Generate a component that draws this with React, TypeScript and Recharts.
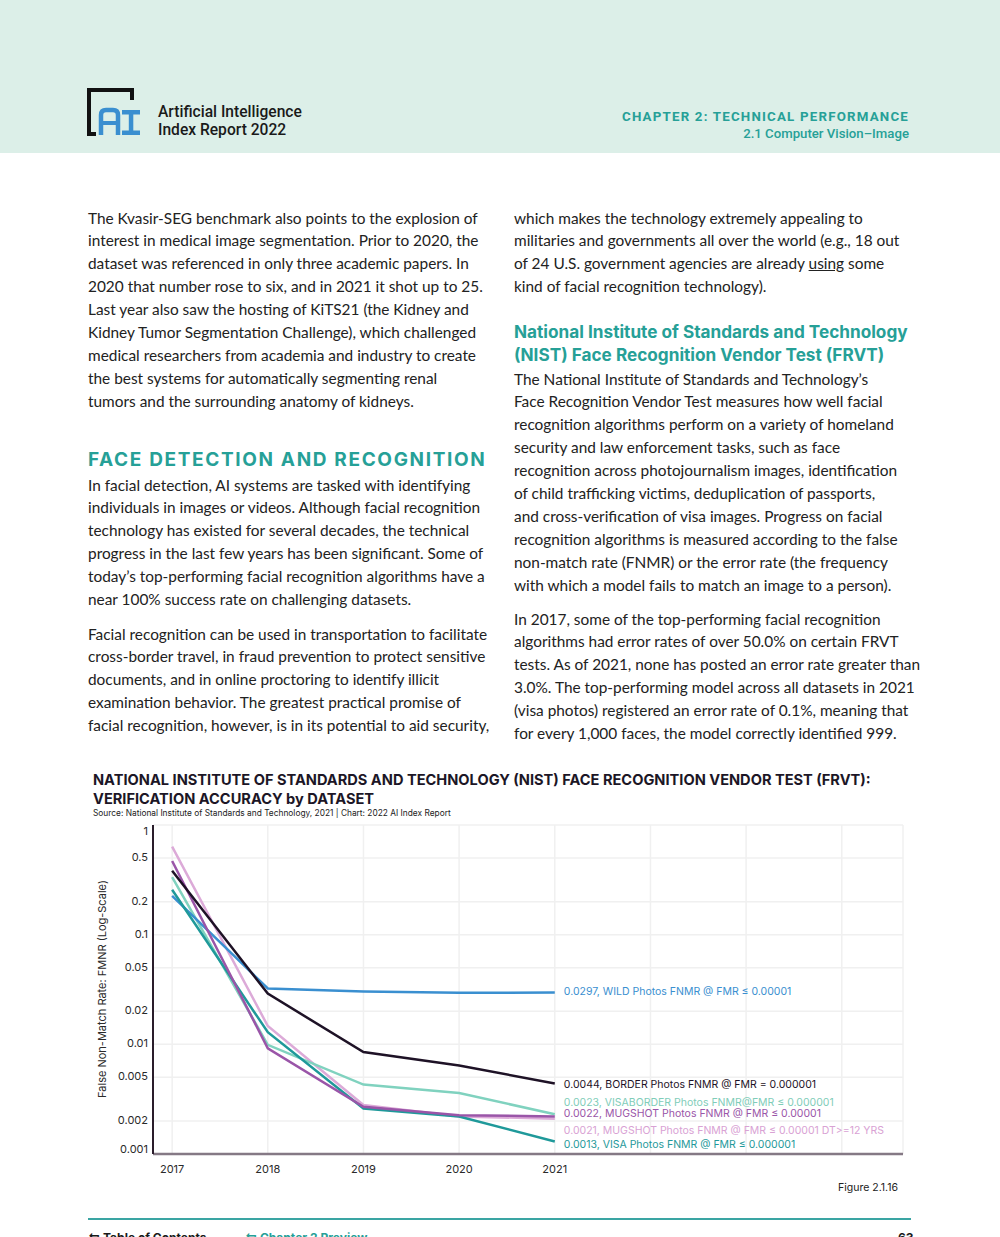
import React from 'react';
import { LineChart, Line, XAxis, YAxis, CartesianGrid } from 'recharts';

// FRVT best FNMR per year (log scale)
const years = [2017, 2018, 2019, 2020, 2021];
const wildPhotos = [0.226, 0.0323, 0.0303, 0.0295, 0.0297];
const borderPhotos = [0.382, 0.029, 0.0085, 0.0064, 0.0044];
const visaBorderPhotos = [0.335, 0.0099, 0.0043, 0.0036, 0.0023];
const mugshotPhotos = [0.47, 0.0092, 0.0027, 0.00226, 0.0022];
const mugshotDtPhotos = [0.635, 0.0147, 0.0028, 0.0022, 0.0021];
const visaPhotos = [0.257, 0.0129, 0.0026, 0.0022, 0.0013];

const yTicks = [0.001, 0.002, 0.005, 0.01, 0.02, 0.05, 0.1, 0.2, 0.5, 1];
const gridYears = [2017, 2018, 2019, 2020, 2021, 2022, 2023, 2024];
const labelledYears = [2017, 2018, 2019, 2020, 2021];

const series = [
  { key: 'mugshotDt', values: mugshotDtPhotos, name: 'MUGSHOT Photos FNMR @ FMR ≤ 0.00001 DT>=12 YRS', color: '#dcaad8', text: '#d9a2d4', dy: 12 },
  { key: 'visaBorder', values: visaBorderPhotos, name: 'VISABORDER Photos FNMR@FMR ≤ 0.000001', color: '#80d2bf', text: '#7fcdb9', dy: -11 },
  { key: 'wild', values: wildPhotos, name: 'WILD Photos FNMR @ FMR ≤ 0.00001', color: '#3a8fd0', text: '#3a8fd0', dy: 0 },
  { key: 'visa', values: visaPhotos, name: 'VISA Photos FNMR @ FMR ≤ 0.000001', color: '#1f999a', text: '#1f999a', dy: 4 },
  { key: 'mugshot', values: mugshotPhotos, name: 'MUGSHOT Photos FNMR @ FMR ≤ 0.00001', color: '#9a55a8', text: '#9a55a8', dy: -2 },
  { key: 'border', values: borderPhotos, name: 'BORDER Photos FNMR @ FMR = 0.000001', color: '#1e1226', text: '#1e1226', dy: 2 },
];

const data = years.map((year, i) => {
  const row: any = { year };
  series.forEach((s) => { row[s.key] = s.values[i]; });
  return row;
});

const TEAL = '#26a097';
const BODY = "'Lato', 'Noto Sans', sans-serif";
const CHART_FONT = "'Inter', 'Roboto', sans-serif";

const leftP1 = [
  'The Kvasir-SEG benchmark also points to the explosion of',
  'interest in medical image segmentation. Prior to 2020, the',
  'dataset was referenced in only three academic papers. In',
  '2020 that number rose to six, and in 2021 it shot up to 25.',
  'Last year also saw the hosting of KiTS21 (the Kidney and',
  'Kidney Tumor Segmentation Challenge), which challenged',
  'medical researchers from academia and industry to create',
  'the best systems for automatically segmenting renal',
  'tumors and the surrounding anatomy of kidneys.',
];
const leftP2 = [
  'In facial detection, AI systems are tasked with identifying',
  'individuals in images or videos. Although facial recognition',
  'technology has existed for several decades, the technical',
  'progress in the last few years has been significant. Some of',
  'today’s top-performing facial recognition algorithms have a',
  'near 100% success rate on challenging datasets.',
];
const leftP3 = [
  'Facial recognition can be used in transportation to facilitate',
  'cross-border travel, in fraud prevention to protect sensitive',
  'documents, and in online proctoring to identify illicit',
  'examination behavior. The greatest practical promise of',
  'facial recognition, however, is in its potential to aid security,',
];
const rightP1: React.ReactNode[] = [
  'which makes the technology extremely appealing to',
  'militaries and governments all over the world (e.g., 18 out',
  <>of 24 U.S. government agencies are already <span style={{ textDecoration: 'underline' }}>using</span> some</>,
  'kind of facial recognition technology).',
];
const rightP2 = [
  'The National Institute of Standards and Technology’s',
  'Face Recognition Vendor Test measures how well facial',
  'recognition algorithms perform on a variety of homeland',
  'security and law enforcement tasks, such as face',
  'recognition across photojournalism images, identification',
  'of child trafficking victims, deduplication of passports,',
  'and cross-verification of visa images. Progress on facial',
  'recognition algorithms is measured according to the false',
  'non-match rate (FNMR) or the error rate (the frequency',
  'with which a model fails to match an image to a person).',
];
const rightP3 = [
  'In 2017, some of the top-performing facial recognition',
  'algorithms had error rates of over 50.0% on certain FRVT',
  'tests. As of 2021, none has posted an error rate greater than',
  '3.0%. The top-performing model across all datasets in 2021',
  '(visa photos) registered an error rate of 0.1%, meaning that',
  'for every 1,000 faces, the model correctly identified 999.',
];

const LH = 22.9;

function Para({ lines, x, y }: { lines: React.ReactNode[]; x: number; y: number }) {
  return (
    <div style={{ position: 'absolute', left: x, top: y - LH / 2, fontFamily: BODY, fontSize: 15.4, color: '#222', lineHeight: `${LH}px`, whiteSpace: 'nowrap' }}>
      {lines.map((l, i) => <div key={i}>{l}</div>)}
    </div>
  );
}

const YTick = ({ x, y, payload }: any) => {
  const v = payload.value;
  const nudge = v === 1 ? 7 : v === 0.001 ? -4 : 0;
  return (
    <text x={x} y={y + nudge} textAnchor="end" dominantBaseline="middle" fontSize={11} fill="#2a2a2a" fontFamily={CHART_FONT}>
      {String(v)}
    </text>
  );
};

const XTick = ({ x, y, payload }: any) => {
  if (!labelledYears.includes(payload.value)) return <g />;
  return (
    <text x={x} y={y + 14} textAnchor="middle" dominantBaseline="middle" fontSize={11} fill="#2a2a2a" fontFamily={CHART_FONT}>
      {payload.value}
    </text>
  );
};

const endLabel = (s: typeof series[number]) => (props: any) => {
  const { x, y, index, value } = props;
  if (index !== years.length - 1) return <g />;
  return (
    <text x={x + 9} y={y + s.dy} dominantBaseline="middle" fontSize={10.5} fill={s.text} fontFamily={CHART_FONT}>
      {`${value}, ${s.name}`}
    </text>
  );
};

function Logo() {
  const blue = '#3a8fd0';
  return (
    <svg width={70} height={60} style={{ position: 'absolute', left: 80, top: 82 }}>
      <path d="M 52 18 V 8 H 9 V 52 H 16" fill="none" stroke="#111" strokeWidth={4} />
      <path d="M 21 53 V 33 Q 21 28 26 28 H 33 Q 38 28 38 33 V 53" fill="none" stroke={blue} strokeWidth={4.5} />
      <rect x={21} y={39} width={17} height={4} fill={blue} />
      <rect x={42} y={28} width={18} height={4.5} fill={blue} />
      <rect x={48.8} y={28} width={4.5} height={25} fill={blue} />
      <rect x={42} y={48.5} width={18} height={4.5} fill={blue} />
    </svg>
  );
}

export default function App() {
  return (
    <div style={{ position: 'fixed', left: 0, top: 0, width: 1000, height: 1237, overflow: 'hidden', background: '#fff' }}>
      {/* header band */}
      <div style={{ position: 'absolute', left: 0, top: 0, width: 1000, height: 153, background: '#dcefe8' }} />
      <Logo />
      <div style={{ position: 'absolute', left: 158, top: 104, fontFamily: "'Roboto', sans-serif", fontWeight: 500, fontSize: 15.6, lineHeight: '17.5px', color: '#1a1a1a' }}>
        <div>Artificial Intelligence</div>
        <div>Index Report 2022</div>
      </div>
      <div style={{ position: 'absolute', right: 91, top: 108, textAlign: 'right', fontFamily: "'Roboto', sans-serif", color: TEAL }}>
        <div style={{ fontWeight: 700, fontSize: 13.3, letterSpacing: 1.2, lineHeight: '17px' }}>CHAPTER 2: TECHNICAL PERFORMANCE</div>
        <div style={{ fontWeight: 500, fontSize: 13.2, lineHeight: '17px' }}>2.1 Computer Vision–Image</div>
      </div>

      {/* body text */}
      <Para lines={leftP1} x={88} y={218} />
      <div style={{ position: 'absolute', left: 88, top: 448, fontFamily: "'Inter', sans-serif", fontWeight: 700, fontSize: 19, letterSpacing: 1.65, color: TEAL, whiteSpace: 'nowrap' }}>
        FACE DETECTION AND RECOGNITION
      </div>
      <Para lines={leftP2} x={88} y={485} />
      <Para lines={leftP3} x={88} y={634} />

      <Para lines={rightP1} x={514} y={218} />
      <div style={{ position: 'absolute', left: 514, top: 320, fontFamily: "'Inter', sans-serif", fontWeight: 700, fontSize: 17.2, lineHeight: '23px', color: TEAL, whiteSpace: 'nowrap' }}>
        <div>National Institute of Standards and Technology</div>
        <div>(NIST) Face Recognition Vendor Test (FRVT)</div>
      </div>
      <Para lines={rightP2} x={514} y={379} />
      <Para lines={rightP3} x={514} y={619} />

      {/* chart title */}
      <div style={{ position: 'absolute', left: 93, top: 771, fontFamily: CHART_FONT, fontWeight: 700, fontSize: 14.6, lineHeight: '19px', color: '#1c1626', whiteSpace: 'nowrap' }}>
        <div>NATIONAL INSTITUTE OF STANDARDS AND TECHNOLOGY (NIST) FACE RECOGNITION VENDOR TEST (FRVT):</div>
        <div>VERIFICATION ACCURACY by DATASET</div>
      </div>
      <div style={{ position: 'absolute', left: 93, top: 808, fontFamily: CHART_FONT, fontSize: 8.35, color: '#222', whiteSpace: 'nowrap' }}>
        Source: National Institute of Standards and Technology, 2021 | Chart: 2022 AI Index Report
      </div>

      <div style={{ position: 'absolute', left: 0, top: 815 }}>
        <LineChart width={1000} height={380} data={data} margin={{ top: 10, right: 97, bottom: 11, left: 93 }}>
          <CartesianGrid stroke="#f0f0f0" strokeWidth={1.5} />
          <XAxis
            dataKey="year"
            type="number"
            domain={[2016.8, 2024.64]}
            ticks={gridYears}
            height={30}
            tick={<XTick />}
            tickLine={false}
            tickSize={0}
            axisLine={{ stroke: '#857985', strokeWidth: 2.5 }}
            allowDataOverflow
          />
          <YAxis
            scale="log"
            domain={[0.001, 1]}
            ticks={yTicks}
            width={60}
            tick={<YTick />}
            tickLine={false}
            tickSize={0}
            tickMargin={5}
            axisLine={{ stroke: '#2a1d2b', strokeWidth: 2 }}
            allowDataOverflow
          />
          {series.map((s) => (
            <Line
              key={s.key}
              dataKey={s.key}
              type="linear"
              stroke={s.color}
              strokeWidth={2.5}
              dot={false}
              activeDot={false}
              isAnimationActive={false}
              label={endLabel(s)}
            />
          ))}
        </LineChart>
      </div>

      {/* y axis title */}
      <div style={{ position: 'absolute', left: 102, top: 989, width: 0, height: 0 }}>
        <div style={{ position: 'absolute', left: 0, top: 0, transform: 'translate(-50%, -50%) rotate(-90deg)', whiteSpace: 'nowrap', fontFamily: CHART_FONT, fontSize: 11, color: '#2a2a2a' }}>
          False Non-Match Rate: FMNR (Log-Scale)
        </div>
      </div>

      <div style={{ position: 'absolute', left: 838, top: 1181, fontFamily: CHART_FONT, fontSize: 10.5, color: '#222' }}>Figure 2.1.16</div>

      {/* footer */}
      <div style={{ position: 'absolute', left: 88, top: 1218, width: 823, height: 2, background: '#3aa5a3' }} />
      <div style={{ position: 'absolute', left: 88, top: 1230, fontFamily: CHART_FONT, fontWeight: 700, fontSize: 12, color: '#1a1a1a', whiteSpace: 'nowrap' }}>
        ↰ Table of Contents
      </div>
      <div style={{ position: 'absolute', left: 245, top: 1230, fontFamily: CHART_FONT, fontWeight: 700, fontSize: 12, color: TEAL, whiteSpace: 'nowrap' }}>
        ↰ Chapter 2 Preview
      </div>
      <div style={{ position: 'absolute', left: 898, top: 1230, fontFamily: CHART_FONT, fontWeight: 700, fontSize: 12, color: '#1a1a1a' }}>63</div>
    </div>
  );
}
